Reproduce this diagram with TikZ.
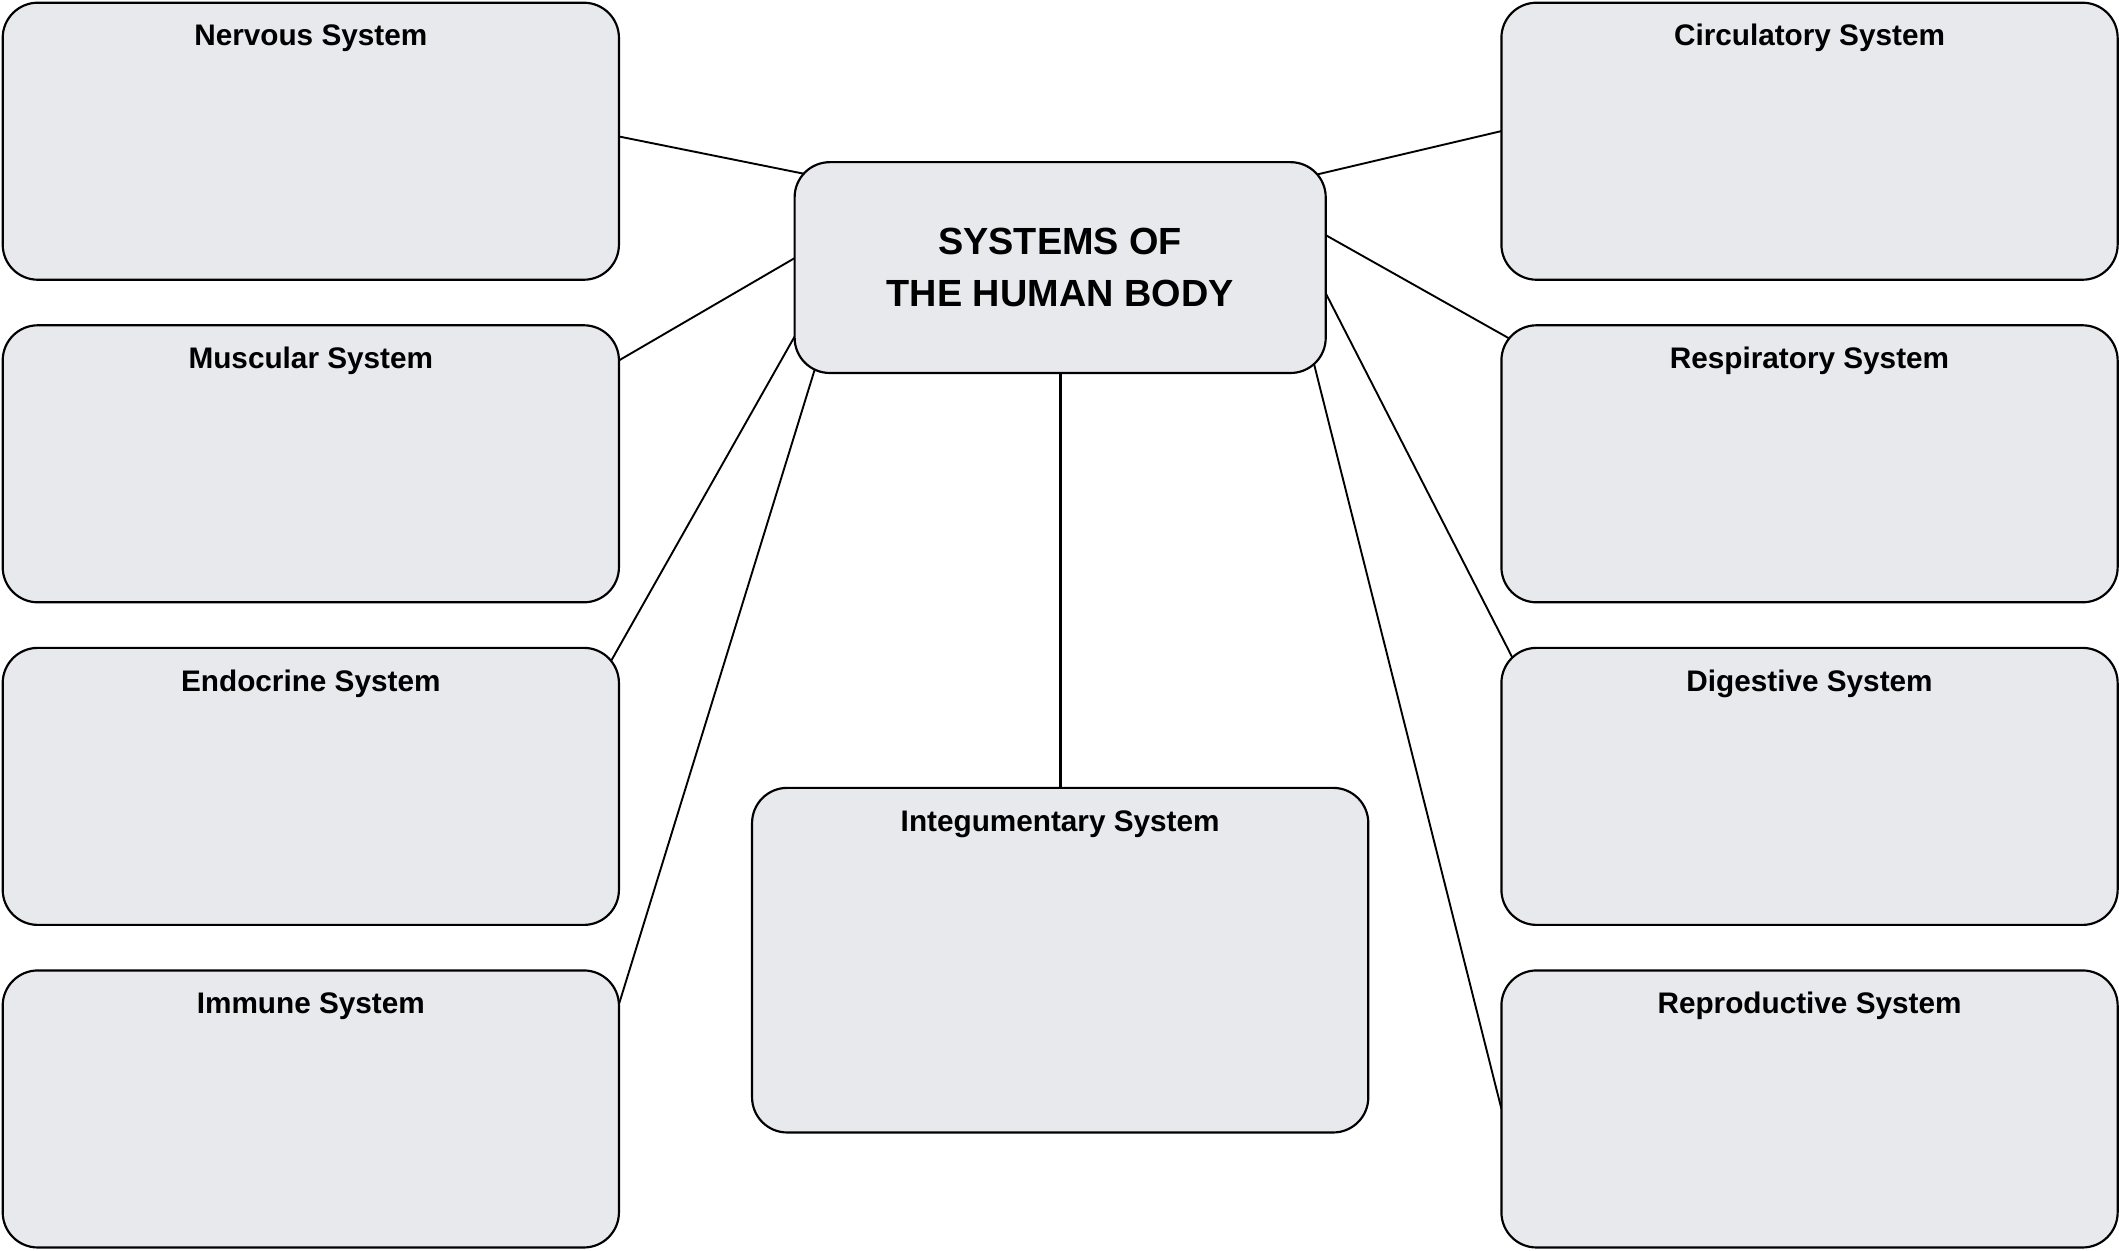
\documentclass[tikz,border=0pt]{standalone}
\usepackage{fontspec}
\setmainfont{Liberation Sans}
\usepackage{tikz}
\usetikzlibrary{positioning, calc, backgrounds}
\definecolor{boxgray}{RGB}{232,233,237}

\tikzset{
  sysbox/.style={draw, line width=0.8pt, fill=boxgray, rounded corners=13pt,
                 minimum width=228pt, minimum height=102.5pt, outer sep=0pt},
  boxlabel/.style={anchor=base, yshift=-16pt, font=\bfseries\fontsize{11}{13}\selectfont},
  link/.style={line width=0.7pt}
}

\begin{document}
\begin{tikzpicture}[x=0.5pt, y=-0.5pt]
  \useasboundingbox (0,0) rectangle (1568,925);

  % --- Central node ---
  \node[sysbox, minimum width=196.5pt, minimum height=78pt, align=center,
        font=\bfseries\fontsize{14}{19.5}\selectfont] (body) at (784.5,198)
        {SYSTEMS OF\\THE HUMAN BODY};

  % --- Left column (4 systems) ---
  \foreach \name/\txt [count=\i] in {nerv/Nervous System, musc/Muscular System,
                                     endo/Endocrine System, immu/Immune System}
    \node[sysbox, label={[boxlabel]north:\txt}] (\name) at (230, 104.5+238.7*\i-238.7) {};

  % --- Right column (4 systems) ---
  \foreach \name/\txt [count=\i] in {circ/Circulatory System, resp/Respiratory System,
                                     dige/Digestive System, repr/Reproductive System}
    \node[sysbox, label={[boxlabel]north:\txt}] (\name) at (1339, 104.5+238.7*\i-238.7) {};

  % --- Bottom middle ---
  \node[sysbox, minimum height=127.5pt, below=153.5pt of body,
        label={[boxlabel]north:Integumentary System}] (inte) {};

  % --- Connectors (behind the boxes) ---
  \begin{scope}[on background layer]
    % left side
    \draw[link] ($(nerv.east)+(0,-3.5)$) -- ($(body.north west)+(9,9)$);
    \draw[link] ($(musc.north east)+(0,26)$) -- ($(body.west)+(0,-7)$);
    \draw[link] ($(endo.north east)+(-6,10)$) -- ($(body.south west)+(0,-27)$);
    \draw[link] ($(immu.north east)+(0,25)$) -- ($(body.south west)+(15,-3)$);
    % middle
    \draw[link, line width=1pt] (body.south) -- (inte.north);
    % right side
    \draw[link] ($(body.north east)+(-6,9)$) -- ($(circ.west)+(0,-7.5)$);
    \draw[link] ($(body.north east)+(0,54)$) -- ($(resp.north west)+(8,11)$);
    \draw[link] ($(body.east)+(0,19)$) -- ($(dige.north west)+(8,7)$);
    \draw[link] ($(body.south east)+(-9,-8)$) -- (repr.west);
  \end{scope}

\end{tikzpicture}
\end{document}
